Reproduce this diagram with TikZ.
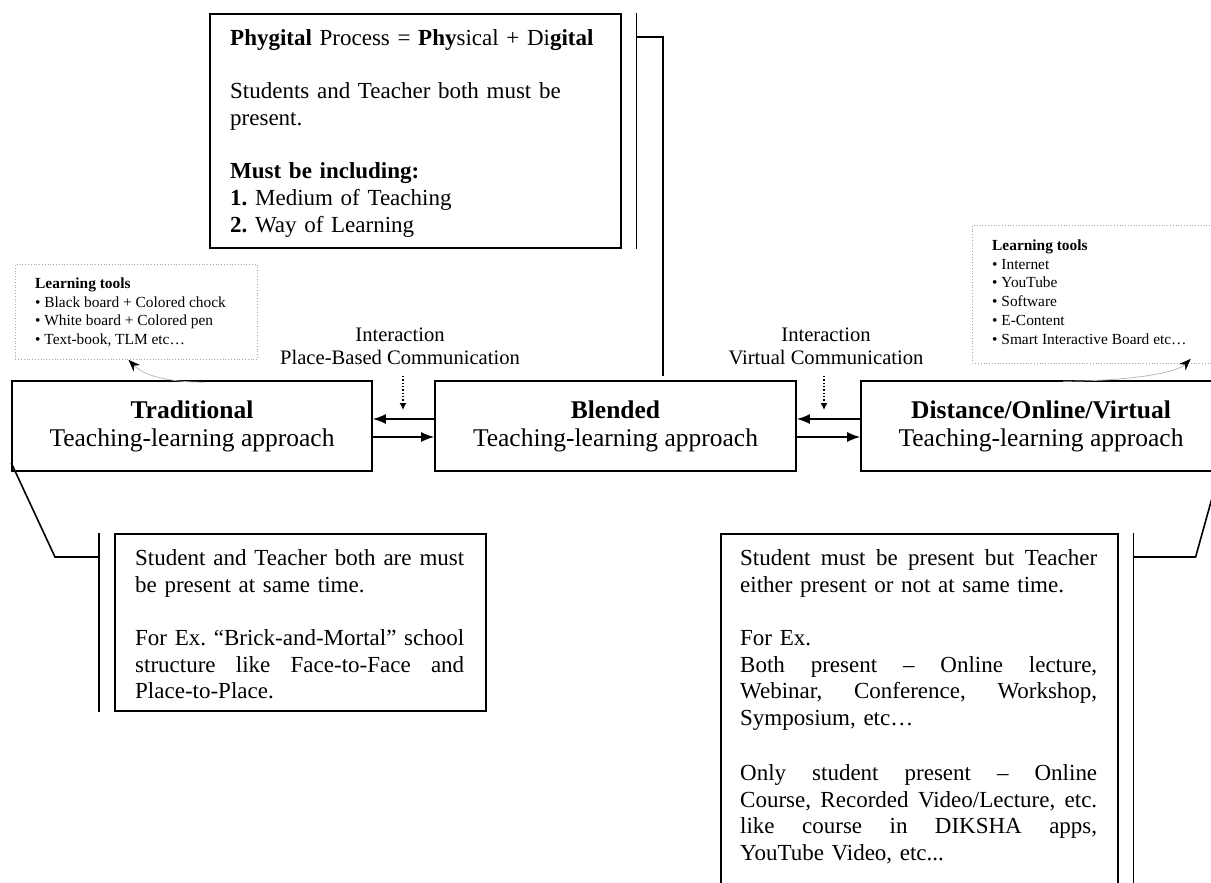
\documentclass[tikz,border=0pt]{standalone}
\usepackage{fontspec}
\setmainfont{Liberation Serif}
\usetikzlibrary{arrows.meta,calc}
\setlength{\parindent}{0pt}
\frenchspacing
\newcommand{\jline}[2]{\leavevmode\hbox to #1{\spaceskip=0.25em plus 1fil\relax\xspaceskip=0.25em plus 1fil\relax #2}}
\begin{document}
\begin{tikzpicture}[x=1pt,y=-1pt,
  mainbox/.style={draw, line width=1.6pt, minimum width=360pt, minimum height=90pt, align=center, inner sep=0pt, font=\fontsize{25.5}{28}\selectfont},
  plainbox/.style={draw, line width=1.6pt, inner sep=0pt, anchor=north west},
  bodytext/.style={anchor=north west, inner sep=0pt, align=left, font=\fontsize{23}{26.7}\selectfont},
  tools/.style={draw=gray!70, dotted, line width=0.8pt, anchor=north west, inner sep=0pt},
  toolstext/.style={anchor=north west, inner sep=0pt, align=left, font=\fontsize{15.4}{18.8}\selectfont},
  lab/.style={align=center, inner sep=0pt, font=\fontsize{20.6}{23}\selectfont},
  link/.style={line width=1.6pt, -{Latex[length=13pt,width=10pt]}},
  hint/.style={dotted, line width=1.3pt, -{Latex[length=7pt,width=7pt]}},
  curl/.style={gray!60, line width=0.7pt, -{Stealth[color=black,length=12pt,width=9pt]}},
  bracket/.style={line width=1.6pt}]
\useasboundingbox (0,0) rectangle (1211,883);
\clip (0,0) rectangle (1211,883);

% main boxes
\node[mainbox] (trad) at (192,426) {\textbf{Traditional}\\Teaching-learning approach};
\node[mainbox, minimum width=361pt] (blend) at (615.5,426) {\textbf{Blended}\\Teaching-learning approach};
\node[mainbox] (dist) at (1041,426) {\textbf{Distance/Online/Virtual}\\Teaching-learning approach};

% arrows between boxes
\draw[link] ([yshift=7pt]blend.west) -- ([yshift=7pt]trad.east);
\draw[link] ([yshift=-11pt]trad.east) -- ([yshift=-11pt]blend.west);
\draw[link] ([yshift=7pt]dist.west) -- ([yshift=7pt]blend.east);
\draw[link] ([yshift=-11pt]blend.east) -- ([yshift=-11pt]dist.west);

% interaction labels
\node[lab] (intL) at (400,346.5) {Interaction\\Place-Based Communication};
\node[lab] (intR) at (826,346.5) {Interaction\\Virtual Communication};
\coordinate (hL) at (403,410);
\coordinate (hR) at (824,410);
\draw[hint] ([yshift=-11pt]intL.south -| hL) -- (hL);
\draw[hint] ([yshift=-11pt]intR.south -| hR) -- (hR);

% phygital box
\node[plainbox, minimum width=411pt, minimum height=234pt] (phy) at (209,13) {};
\node[bodytext, text width=380pt] (phyt) at (230,29.3) {%
\textbf{Phygital} Process = \textbf{Phy}sical + Di\textbf{gital}\\[26.7pt]
Students and Teacher both must be\\
present.\\[26.7pt]
\textbf{Must be including:}\\
\textbf{1.} Medium of Teaching\\
\textbf{2.} Way of Learning};
\draw[bracket] ([xshift=15pt]phy.north east) -- ([xshift=15pt]phy.south east);
\draw[bracket] ([xshift=15pt,yshift=-24pt]phy.north east) -| ([xshift=47.5pt,yshift=4pt]blend.north);

% learning tools boxes
\node[tools, minimum width=242pt, minimum height=95pt] (ltL) at (15,264) {};
\node[toolstext] (ltLt) at (35,277.5) {\textbf{Learning tools}\\
\textbullet\ Black board + Colored chock\\
\textbullet\ White board + Colored pen\\
\textbullet\ Text-book, TLM etc…};
\node[tools, minimum width=250pt, minimum height=138pt] (ltR) at (972,225) {};
\node[toolstext] (ltRt) at (992,239.5) {\textbf{Learning tools}\\
\textbullet\ Internet\\
\textbullet\ YouTube\\
\textbullet\ Software\\
\textbullet\ E-Content\\
\textbullet\ Smart Interactive Board etc…};
\draw[curl] ([xshift=13pt,yshift=-2pt]trad.north) .. controls +(-40,0) and +(15,15) .. ([xshift=-8pt]ltL.south);
\draw[curl] ([xshift=22pt,yshift=-1pt]dist.north) .. controls +(60,0) and +(-15,15) .. ([xshift=-32pt,yshift=5pt]ltR.south east);

% lower left box
\node[plainbox, minimum width=371pt, minimum height=177pt] (trT) at (114,533) {};
\node[bodytext, text width=329pt] (trTt) at (135,549.3) {%
\jline{329pt}{Student and Teacher both are must}\\
be present at same time.\\[26.7pt]
\jline{329pt}{For Ex. “Brick-and-Mortal” school}\\
\jline{329pt}{structure like Face-to-Face and}\\
Place-to-Place.};
\draw[bracket] ([xshift=-15pt]trT.north west) -- ([xshift=-15pt]trT.south west);
\draw[bracket] ([yshift=9pt]trad.south west) -- ([xshift=-59pt,yshift=-24pt]trT.north west) -- ([xshift=-15pt,yshift=-24pt]trT.north west);

% lower right box
\node[plainbox, minimum width=397pt, minimum height=380pt] (diT) at (720,533) {};
\node[bodytext, text width=357pt] (diTt) at (740,549.3) {%
\jline{357pt}{Student must be present but Teacher}\\
either present or not at same time.\\[26.7pt]
For Ex.\\
\jline{357pt}{Both present – Online lecture,}\\
\jline{357pt}{Webinar, Conference, Workshop,}\\
Symposium, etc…\\[28pt]
\jline{357pt}{Only student present – Online}\\
\jline{357pt}{Course, Recorded Video/Lecture, etc.}\\
\jline{357pt}{like course in DIKSHA apps,}\\
YouTube Video, etc...};
\draw[bracket] ([xshift=15pt]diT.north east) -- ([xshift=15pt]diT.south east);
\draw[bracket] ([yshift=9pt]dist.south east) -- ([xshift=77pt,yshift=-24pt]diT.north east) -- ([xshift=15pt,yshift=-24pt]diT.north east);
\end{tikzpicture}
\end{document}
